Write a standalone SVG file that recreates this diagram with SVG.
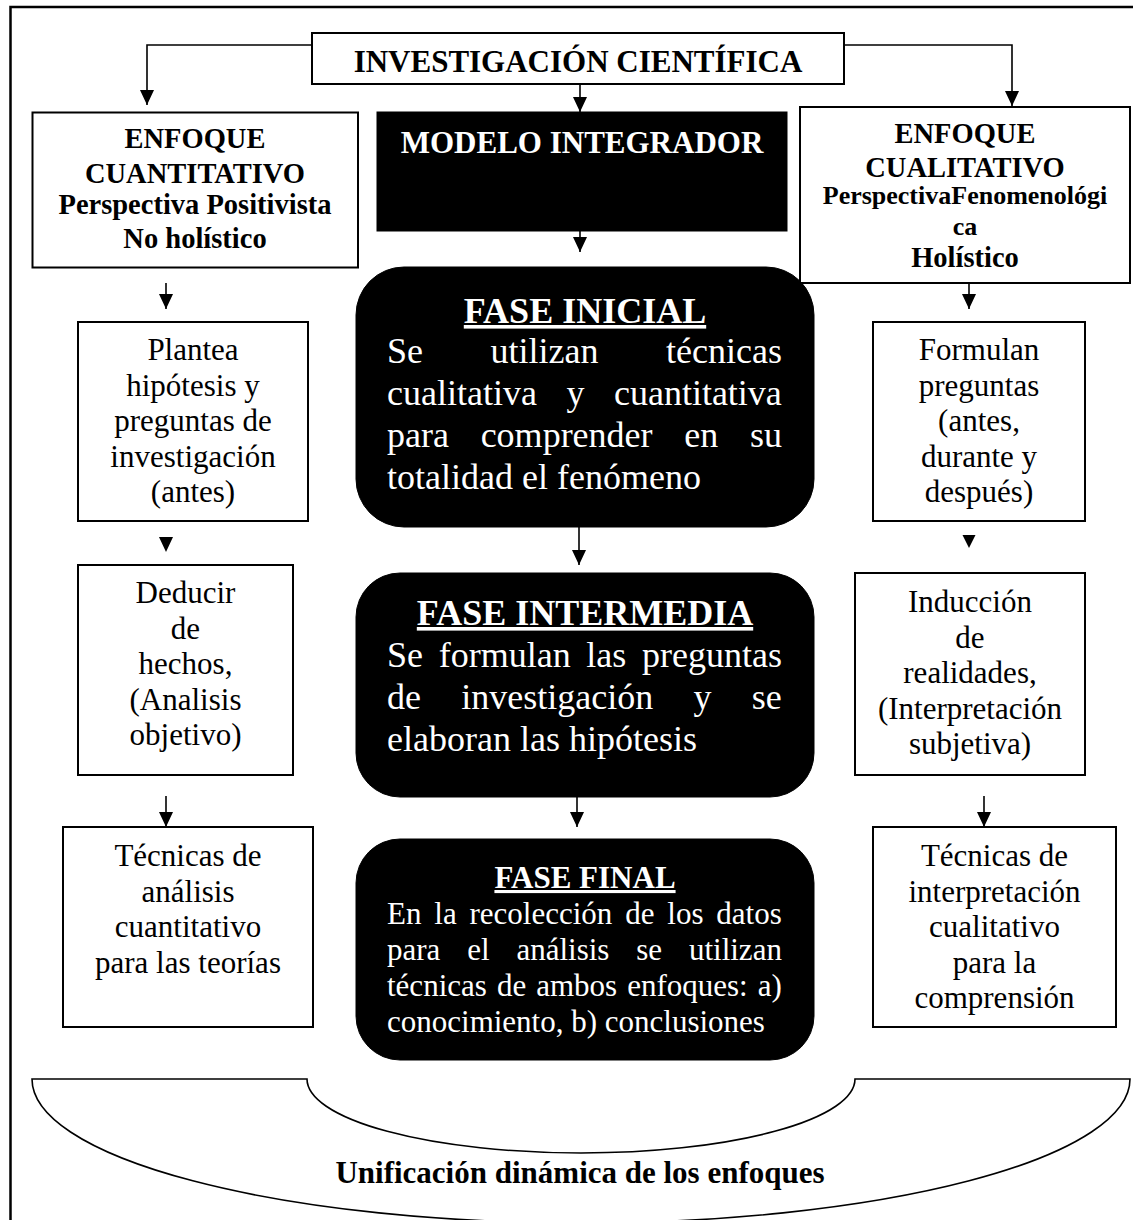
<svg xmlns="http://www.w3.org/2000/svg" width="1133" height="1220" viewBox="0 0 1133 1220">
<defs>
<style>
.box{fill:#fff;stroke:#000;stroke-width:2}
.dark{fill:#000;stroke:#000;stroke-width:1}
.t{font-family:"Liberation Serif","Times New Roman",serif;text-anchor:middle;fill:#000}
.b{font-weight:bold}
.w{fill:#fff}
.j{text-anchor:start}
.u{text-decoration:underline}
.conn polyline{fill:none;stroke:#000;stroke-width:1.6}
.conn polygon{fill:#000;stroke:none}
</style>
<marker id="ah" markerUnits="userSpaceOnUse" viewBox="0 0 15 14" markerWidth="15" markerHeight="14" refX="15" refY="7" orient="auto">
<path d="M0,0 L15,7 L0,14 Z" fill="#000"/>
</marker>
</defs>
<rect width="1133" height="1220" fill="#fff"/>
<path d="M10.5,1220 V7 H1133" fill="none" stroke="#000" stroke-width="2.5"/>

<g id="investigacion">
<rect class="box" x="312" y="33" width="532" height="51"/>
<text class="t b" x="578" y="72" font-size="31">INVESTIGACIÓN CIENTÍFICA</text>
</g>

<g id="enfoque-cuantitativo">
<rect class="box" x="32.5" y="112.5" width="325.5" height="155"/>
<text class="t b" x="195" y="148" font-size="28.5">ENFOQUE</text>
<text class="t b" x="195" y="182.5" font-size="28.5">CUANTITATIVO</text>
<text class="t b" x="195" y="214" font-size="28.5">Perspectiva Positivista</text>
<text class="t b" x="195" y="248" font-size="28.5">No holístico</text>
</g>

<g id="modelo-integrador">
<rect class="dark" x="377" y="112" width="410" height="119"/>
<text class="t b w" x="582" y="153" font-size="31">MODELO INTEGRADOR</text>
</g>

<g id="enfoque-cualitativo">
<rect class="box" x="800" y="107" width="330" height="176"/>
<text class="t b" x="965" y="143" font-size="28.5">ENFOQUE</text>
<text class="t b" x="965" y="177" font-size="28.5">CUALITATIVO</text>
<text class="t b" x="965" y="204" font-size="26">PerspectivaFenomenológi</text>
<text class="t b" x="965" y="235" font-size="26">ca</text>
<text class="t b" x="965" y="267" font-size="28.5">Holístico</text>
</g>

<g id="fase-inicial">
<rect class="dark" x="356" y="267" width="458" height="260" rx="48" ry="48"/>
<text class="t b w u" x="585" y="323" font-size="36">FASE INICIAL</text>
<text class="t w j" x="387" y="363" font-size="36" style="word-spacing:58.5px">Se utilizan técnicas</text>
<text class="t w j" x="387" y="405" font-size="36" style="word-spacing:20.5px">cualitativa y cuantitativa</text>
<text class="t w j" x="387" y="447" font-size="36" style="word-spacing:22.7px">para comprender en su</text>
<text class="t w j" x="387" y="489" font-size="36">totalidad el fenómeno</text>
</g>

<g id="fase-intermedia">
<rect class="dark" x="356" y="573" width="458" height="224" rx="44" ry="44"/>
<text class="t b w u" x="585" y="625" font-size="36">FASE INTERMEDIA</text>
<text class="t w j" x="387" y="667" font-size="36" style="word-spacing:6.7px">Se formulan las preguntas</text>
<text class="t w j" x="387" y="709" font-size="36" style="word-spacing:31.3px">de investigación y se</text>
<text class="t w j" x="387" y="751" font-size="36">elaboran las hipótesis</text>
</g>

<g id="fase-final">
<rect class="dark" x="356" y="839" width="458" height="221" rx="44" ry="44"/>
<text class="t b w u" x="585" y="888" font-size="31">FASE FINAL</text>
<text class="t w j" x="387" y="924" font-size="31" style="word-spacing:5.1px">En la recolección de los datos</text>
<text class="t w j" x="387" y="960" font-size="31" style="word-spacing:19.1px">para el análisis se utilizan</text>
<text class="t w j" x="387" y="996" font-size="31" style="word-spacing:2.3px">técnicas de ambos enfoques: a)</text>
<text class="t w j" x="387" y="1032" font-size="31">conocimiento, b) conclusiones</text>
</g>

<g id="plantea">
<rect class="box" x="78" y="322" width="230" height="199"/>
<text class="t" x="193" y="360" font-size="31">Plantea</text>
<text class="t" x="193" y="395.5" font-size="31">hipótesis y</text>
<text class="t" x="193" y="431" font-size="31">preguntas de</text>
<text class="t" x="193" y="466.5" font-size="31">investigación</text>
<text class="t" x="193" y="502" font-size="31">(antes)</text>
</g>

<g id="formulan">
<rect class="box" x="873" y="322" width="212" height="199"/>
<text class="t" x="979" y="360" font-size="31">Formulan</text>
<text class="t" x="979" y="395.5" font-size="31">preguntas</text>
<text class="t" x="979" y="431" font-size="31">(antes,</text>
<text class="t" x="979" y="466.5" font-size="31">durante y</text>
<text class="t" x="979" y="502" font-size="31">después)</text>
</g>

<g id="deducir">
<rect class="box" x="78" y="565" width="215" height="210"/>
<text class="t" x="185.5" y="603" font-size="31">Deducir</text>
<text class="t" x="185.5" y="638.5" font-size="31">de</text>
<text class="t" x="185.5" y="674" font-size="31">hechos,</text>
<text class="t" x="185.5" y="709.5" font-size="31">(Analisis</text>
<text class="t" x="185.5" y="745" font-size="31">objetivo)</text>
</g>

<g id="induccion">
<rect class="box" x="855" y="573" width="230" height="202"/>
<text class="t" x="970" y="612" font-size="31">Inducción</text>
<text class="t" x="970" y="647.5" font-size="31">de</text>
<text class="t" x="970" y="683" font-size="31">realidades,</text>
<text class="t" x="970" y="718.5" font-size="31">(Interpretación</text>
<text class="t" x="970" y="754" font-size="31">subjetiva)</text>
</g>

<g id="tecnicas-cuantitativo">
<rect class="box" x="63" y="827" width="250" height="200"/>
<text class="t" x="188" y="866" font-size="31">Técnicas de</text>
<text class="t" x="188" y="901.5" font-size="31">análisis</text>
<text class="t" x="188" y="937" font-size="31">cuantitativo</text>
<text class="t" x="188" y="972.5" font-size="31">para las teorías</text>
</g>

<g id="tecnicas-cualitativo">
<rect class="box" x="873" y="827" width="243" height="200"/>
<text class="t" x="994.5" y="866" font-size="31">Técnicas de</text>
<text class="t" x="994.5" y="901.5" font-size="31">interpretación</text>
<text class="t" x="994.5" y="937" font-size="31">cualitativo</text>
<text class="t" x="994.5" y="972.5" font-size="31">para la</text>
<text class="t" x="994.5" y="1008" font-size="31">comprensión</text>
</g>

<g id="unificacion">
<path d="M32,1079 H307 A274,74 0 0 0 855,1079 H1130 A549,144 0 0 1 32,1079 Z" fill="#fff" stroke="#000" stroke-width="1.6"/>
<text class="t b" x="580" y="1183" font-size="31">Unificación dinámica de los enfoques</text>
</g>

<g id="connectors" class="conn">
<polyline points="312,45 147,45 147,105" marker-end="url(#ah)"/>
<polyline points="580,84 580,112" marker-end="url(#ah)"/>
<polyline points="844,45 1012,45 1012,106" marker-end="url(#ah)"/>
<polyline points="580,231 580,252" marker-end="url(#ah)"/>
<polyline points="166,283 166,309" marker-end="url(#ah)"/>
<polyline points="969,283 969,309" marker-end="url(#ah)"/>
<polygon points="159,537 173,537 166,552"/>
<polygon points="962.5,535 975.5,535 969,548"/>
<polyline points="579,527 579,565" marker-end="url(#ah)"/>
<polyline points="166,796 166,827" marker-end="url(#ah)"/>
<polyline points="577,797 577,827" marker-end="url(#ah)"/>
<polyline points="984,796 984,827" marker-end="url(#ah)"/>
</g>
</svg>
